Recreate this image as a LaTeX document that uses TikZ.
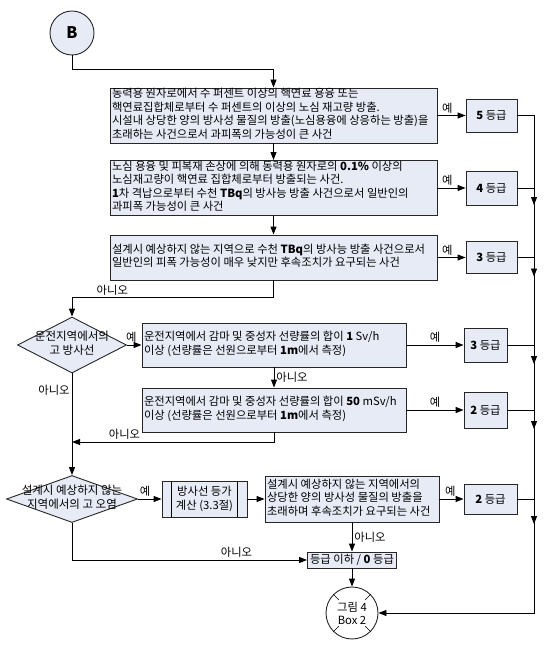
\documentclass[tikz,border=0pt]{standalone}
\usepackage{fontspec}
\setmainfont{Noto Sans CJK KR}
\usetikzlibrary{arrows.meta,shapes,calc,decorations.markings}
\definecolor{boxfill}{RGB}{230,235,246}
\newcommand{\boxfont}{\fontsize{11.3}{13.5}\selectfont}
\tikzstyle{event}=[rectangle,draw=black!85,fill=boxfill,inner xsep=2pt,inner ysep=0pt,font=\boxfont]
\tikzstyle{grade}=[rectangle,draw=black!85,fill=boxfill,inner sep=0pt,font=\boxfont]
\tikzstyle{decision}=[diamond,draw=black!85,fill=boxfill,inner sep=0pt,font=\fontsize{11.5}{13.5}\selectfont]
\tikzstyle{conn}=[circle,draw=black!85,inner sep=0pt]
\tikzstyle{lbl}=[font=\fontsize{11.3}{13}\selectfont,inner sep=2pt]
\tikzset{arrowat/.style={-,postaction={decorate},decoration={markings,mark=at position #1 with {\arrow{>}}}}}
% left-aligned lines in a box of fixed width, never broken
\newcommand{\evtext}[2]{\makebox[#1][l]{\begin{tabular}{@{}l@{}}#2\end{tabular}}}
\newcommand{\twolines}[2]{\begin{tabular}{@{}c@{}}\makebox[0pt]{#1}\\\makebox[0pt]{#2}\end{tabular}}

\begin{document}
\begin{tikzpicture}[->,>={Triangle[length=8pt,width=6pt]},x=1pt,y=-1pt,line width=0.9pt]
\useasboundingbox (0,0) rectangle (557,647);

\node [conn, fill=boxfill, minimum size=44pt, font=\fontsize{16}{16}\selectfont\bfseries] (startB) at (72,33) {B};

% release events
\node [event, minimum height=55pt] (ev5) at (273.5,115.5)
  {\evtext{323pt}{동력용 원자로에서 수 퍼센트 이상의 핵연료 용융 또는\\핵연료집합체로부터 수 퍼센트의 이상의 노심 재고량 방출.\\시설내 상당한 양의 방사성 물질의 방출(노심용융에 상응하는 방출)을\\초래하는 사건으로서 과피폭의 가능성이 큰 사건}};
\node [event, minimum height=55pt] (ev4) at (273.5,188)
  {\evtext{323pt}{노심 용융 및 피복재 손상에 의해 동력용 원자로의 \textbf{0.1\%} 이상의\\노심재고량이 핵연료 집합체로부터 방출되는 사건.\\\textbf{1}차 격납으로부터 수천 \textbf{TBq}의 방사능 방출 사건으로서 일반인의\\과피폭 가능성이 큰 사건}};
\node [event, minimum height=45pt] (ev3) at (273.5,257.5)
  {\evtext{323pt}{설계시 예상하지 않는 지역으로 수천 \textbf{TBq}의 방사능 방출 사건으로서\\일반인의 피폭 가능성이 매우 낮지만 후속조치가 요구되는 사건}};
\node [grade, minimum width=51pt, minimum height=33pt] (g5) at (491.5,115.5) {\textbf{5} 등급};
\node [grade, minimum width=51pt, minimum height=34pt] (g4) at (491.5,188) {\textbf{4} 등급};
\node [grade, minimum width=51pt, minimum height=32pt] (g3) at (491.5,257.5) {\textbf{3} 등급};

% high radiation
\node [decision, minimum width=109pt, minimum height=56pt] (hirad) at (72,345) {\twolines{운전지역에서의}{고 방사선}};
\node [event, minimum height=44pt] (rad1) at (274,345)
  {\evtext{260pt}{운전지역에서 감마 및 중성자 선량률의 합이 \textbf{1} Sv/h\\이상 (선량률은 선원으로부터 \textbf{1m}에서 측정)}};
\node [event, minimum height=44pt] (rad2) at (274,410)
  {\evtext{260pt}{운전지역에서 감마 및 중성자 선량률의 합이 \textbf{50} mSv/h\\이상 (선량률은 선원으로부터 \textbf{1m}에서 측정)}};
\node [grade, minimum width=43pt, minimum height=34pt] (g3b) at (485.5,345) {\textbf{3} 등급};
\node [grade, minimum width=43pt, minimum height=36pt] (g2b) at (485.5,410) {\textbf{2} 등급};

% contamination
\node [decision, minimum width=131pt, minimum height=47pt] (hicont) at (72,499) {\twolines{설계시 예상하지 않는}{지역에서의 고 오염}};
\node [grade, minimum width=85pt, minimum height=36pt, align=center] (calc) at (204.5,499) {방사선 등가\\계산 (3.3절)};
\node [event, minimum height=46pt] (cont) at (352,499)
  {\evtext{170pt}{설계시 예상하지 않는 지역에서의\\상당한 양의 방사성 물질의 방출을\\초래하며 후속조치가 요구되는 사건}};
\node [grade, minimum width=89pt, minimum height=16pt] (g0) at (352,560) {등급 이하 / \textbf{0} 등급};
\node [grade, minimum width=53pt, minimum height=30pt] (g2c) at (490.5,499) {\textbf{2} 등급};
\node [conn, fill=white, minimum size=52pt, align=center, font=\fontsize{11.3}{13}\selectfont] (box2) at (352,613) {그림 4\\Box 2};

\draw[-] ([xshift=10pt]calc.north west) -- ([xshift=10pt]calc.south west);
\draw[-] ([xshift=-10pt]calc.north east) -- ([xshift=-10pt]calc.south east);
\foreach \a in {45,135,225,315}
  \draw[-, line width=0.5pt] (box2.\a) -- ($(box2.center)!0.7!(box2.\a)$);

\coordinate (rail) at (534,0);
\coordinate (merge) at (72,442);

\draw (startB.south) -- ++(0,14) -| (ev5.north);
\draw (ev5.south) -- (ev4.north);
\draw (ev4.south) -- (ev3.north);
\draw (ev5.east) -- node[lbl, above, pos=0.35] {예} (g5.west);
\draw (ev4.east) -- node[lbl, above, pos=0.35] {예} (g4.west);
\draw (ev3.east) -- node[lbl, above, pos=0.35] {예} (g3.west);
\draw (ev3.south) -- ++(0,17) -| node[lbl, above, pos=0.4] {아니오} (hirad.north);

\draw (hirad.east) -- node[lbl, above, pos=0.3] {예} (rad1.west);
\draw (rad1.east) -- node[lbl, above] {예} (g3b.west);
\draw (rad1.south) -- node[lbl, right] {아니오} (rad2.north);
\draw (rad2.east) -- node[lbl, above] {예} (g2b.west);
\draw (rad2.south) |- node[lbl, above, pos=0.87] {아니오} (merge);
\draw (hirad.south) -- node[lbl, left, pos=0.17] {아니오} (hicont.north);

\draw (hicont.east) -- node[lbl, above, pos=0.3] {예} (calc.west);
\draw (calc.east) -- (cont.west);
\draw (cont.east) -- node[lbl, above, pos=0.45] {예} (g2c.west);
\draw (cont.south) -- node[lbl, right] {아니오} (g0.north);
\draw (hicont.south) |- node[lbl, above, pos=0.85] {아니오} (g0.west);
\draw (g0.south) -- (box2.north);

% collecting rail on the right
\draw[-] (g5.east) -| (rail |- g4.east);
\draw[-] (g4.east) -- (rail |- g4.east);
\draw[arrowat=17pt] (rail |- g4.east) -- (rail |- g3.east);
\draw[-] (g3.east) -- (rail |- g3.east);
\draw[arrowat=19pt] (rail |- g3.east) -- (rail |- g3b.east);
\draw[-] (g3b.east) -- (rail |- g3b.east);
\draw[arrowat=19pt] (rail |- g3b.east) -- (rail |- g2b.east);
\draw[-] (g2b.east) -- (rail |- g2b.east);
\draw[arrowat=19pt] (rail |- g2b.east) -- (rail |- g2c.east);
\draw[-] (g2c.east) -- (rail |- g2c.east);
\draw[arrowat=25pt, ->] (rail |- g2c.east) |- (box2.east);
\end{tikzpicture}
\end{document}
